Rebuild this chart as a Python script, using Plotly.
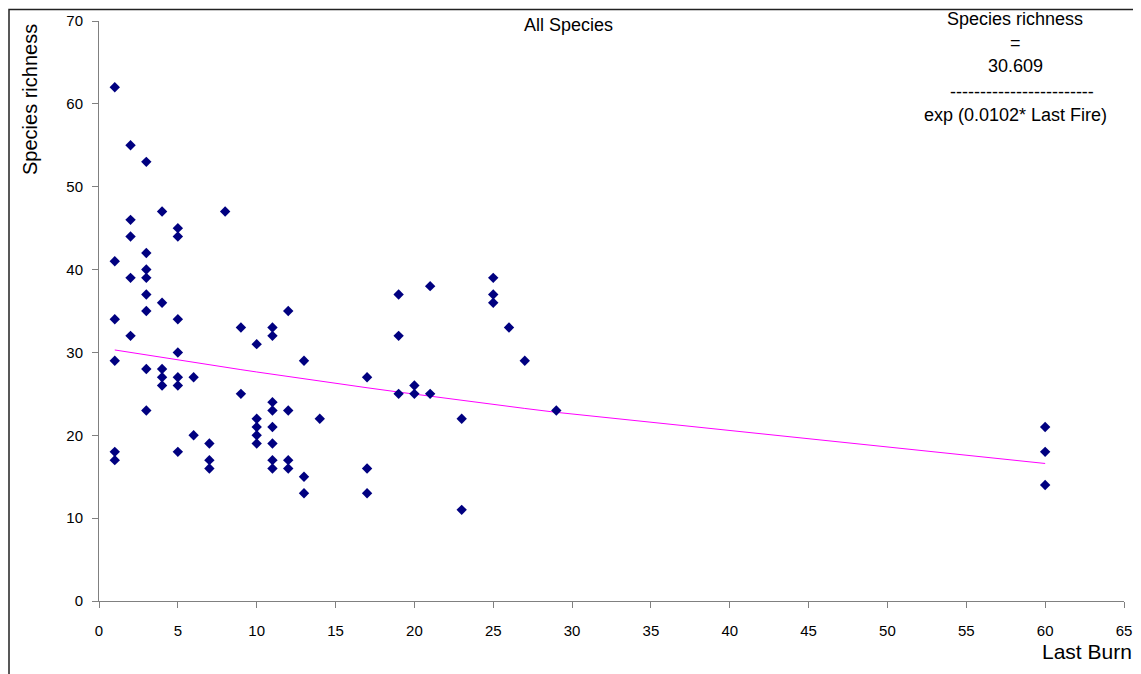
import math
import plotly.graph_objects as go

# Data
last_burn = [1, 1, 1, 1, 1, 1,
             2, 2, 2, 2, 2,
             3, 3, 3, 3, 3, 3, 3, 3,
             4, 4, 4, 4, 4,
             5, 5, 5, 5, 5, 5, 5,
             6, 6,
             7, 7, 7,
             8,
             9, 9,
             10, 10, 10, 10, 10,
             11, 11, 11, 11, 11, 11, 11, 11,
             12, 12, 12, 12,
             13, 13, 13,
             14,
             17, 17, 17,
             19, 19, 19,
             20, 20,
             21, 21,
             23, 23,
             25, 25, 25,
             26,
             27,
             29,
             60, 60, 60]
richness = [62, 41, 34, 29, 18, 17,
            55, 46, 44, 39, 32,
            53, 42, 40, 39, 37, 35, 28, 23,
            47, 36, 28, 27, 26,
            45, 44, 34, 30, 27, 26, 18,
            27, 20,
            19, 17, 16,
            47,
            33, 25,
            31, 22, 21, 20, 19,
            33, 32, 24, 23, 21, 19, 17, 16,
            35, 23, 17, 16,
            29, 15, 13,
            22,
            27, 16, 13,
            37, 32, 25,
            26, 25,
            38, 25,
            22, 11,
            39, 37, 36,
            33,
            29,
            23,
            21, 18, 14]

# Fitted model shown on the chart: richness = A / exp(B * last_burn)
coef_a = 30.609
coef_b = 0.0102

fit_x = sorted(set(last_burn))
fit_y = [coef_a / math.exp(coef_b * v) for v in fit_x]

x_ticks = list(range(0, 66, 5))
y_ticks = list(range(0, 71, 10))

FONT = "Liberation Sans, Arial, sans-serif"

fig = go.Figure()
fig.add_trace(go.Scatter(x=fit_x, y=fit_y, mode="lines",
                         line=dict(color="#FF00FF", width=1),
                         hoverinfo="skip", showlegend=False))
fig.add_trace(go.Scatter(x=last_burn, y=richness, mode="markers",
                         marker=dict(symbol="diamond", size=8, color="#000080",
                                     line=dict(width=0)),
                         showlegend=False))

# page body has an 8px margin; work in screen coordinates and convert
OFF = 8
W, H = 1141 - OFF, 674 - OFF
L, R, T, B = 99 - OFF, 1124 - OFF, 21 - OFF, 601 - OFF
pw, ph = R - L, B - T


def px(xs):
    return (xs - OFF - L) / pw


def py(ys):
    return (B - (ys - OFF)) / ph


axis_common = dict(showline=True, linecolor="#808080", linewidth=1,
                   ticks="outside", ticklen=6, tickcolor="#808080", tickwidth=1,
                   showgrid=False, zeroline=False, mirror=False, automargin=False,
                   tickfont=dict(family=FONT, size=15, color="black"))

fig.update_layout(
    width=W, height=H,
    margin=dict(l=L, r=W - R, t=T, b=H - B, autoexpand=False),
    paper_bgcolor="white", plot_bgcolor="white",
    xaxis=dict(range=[0, 65], tickvals=x_ticks, ticktext=[str(v) for v in x_ticks],
               ticklabelstandoff=10, **axis_common),
    yaxis=dict(range=[0, 70], tickvals=y_ticks, ticktext=[str(v) for v in y_ticks],
               ticklabelstandoff=6, **axis_common),
    font=dict(family=FONT, color="black"),
)

annotations = [
    dict(text="All Species", x=px(568), y=py(25), size=18),
    dict(text="Species richness", x=px(1015), y=py(19), size=18),
    dict(text="=", x=px(1015), y=py(43), size=18),
    dict(text="30.609", x=px(1015), y=py(66), size=18),
    dict(text="------------------------", x=px(1022), y=py(92), size=18),
    dict(text="exp (0.0102* Last Fire)", x=px(1015), y=py(115), size=18),
]
for a in annotations:
    fig.add_annotation(text=a["text"], x=a["x"], y=a["y"], xref="paper", yref="paper",
                       xanchor="center", yanchor="middle", showarrow=False,
                       font=dict(family=FONT, size=a["size"], color="black"))

fig.add_annotation(text="Species richness", x=px(30), y=py(100), xref="paper", yref="paper",
                   xanchor="center", yanchor="middle", showarrow=False, textangle=-90,
                   font=dict(family=FONT, size=20, color="black"))
fig.add_annotation(text="Last Burn", x=px(1134), y=py(651), xref="paper", yref="paper",
                   xanchor="right", yanchor="middle", showarrow=False,
                   font=dict(family=FONT, size=21, color="black"))

# outer chart frame
fig.add_shape(type="rect", xref="paper", yref="paper",
              x0=px(OFF + 1), x1=px(1137), y0=py(720), y1=py(OFF + 1.5),
              line=dict(color="#222222", width=1.5), fillcolor="rgba(0,0,0,0)",
              layer="below")

fig.write_html("out.html")
